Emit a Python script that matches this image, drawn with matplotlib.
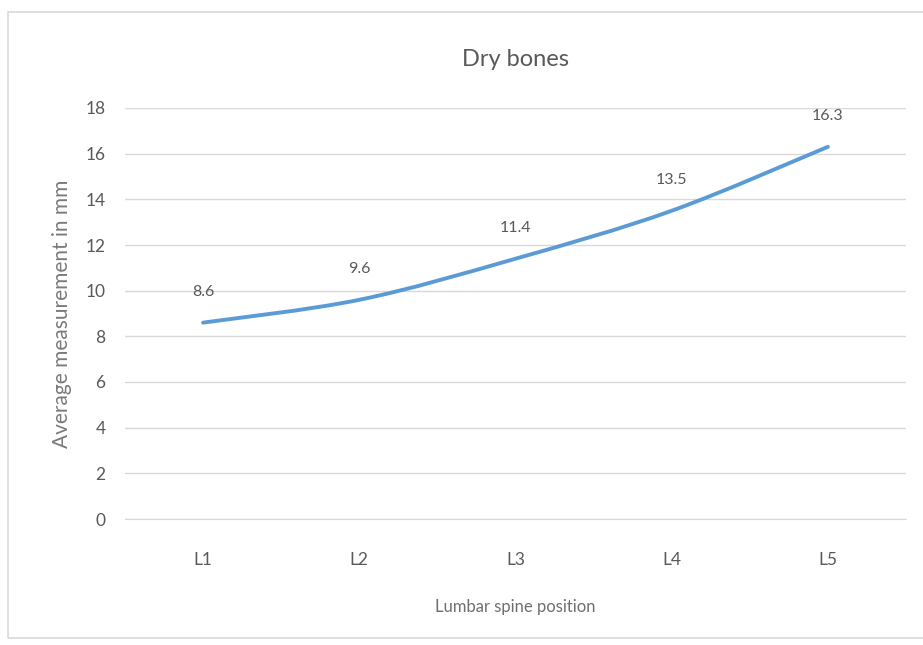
import matplotlib.pyplot as plt
from matplotlib.path import Path
from matplotlib.patches import PathPatch, Rectangle
import numpy as np

# Data
positions = ["L1", "L2", "L3", "L4", "L5"]
avg_mm = [8.6, 9.6, 11.4, 13.5, 16.3]
y_ticks = [0, 2, 4, 6, 8, 10, 12, 14, 16, 18]

plt.rcParams['font.family'] = ['Lato', 'DejaVu Sans']
TXT = '#595959'
GRID = '#d9d9d9'
LINE = '#5b9bd5'


def smooth_path(xs, ys):
    # Bezier curve through the points, Excel-style smoothing (tension 1/6)
    pts = np.column_stack([xs, ys]).astype(float)
    n = len(pts)
    verts = [pts[0]]
    codes = [Path.MOVETO]
    for i in range(n - 1):
        p0 = pts[max(i - 1, 0)]
        p1 = pts[i]
        p2 = pts[i + 1]
        p3 = pts[min(i + 2, n - 1)]
        c1 = p1 + (p2 - p0) / 6.0
        c2 = p2 - (p3 - p1) / 6.0
        verts += [c1, c2, p2]
        codes += [Path.CURVE4] * 3
    return Path(verts, codes)


fig = plt.figure(figsize=(9.23, 6.45), dpi=100)
fig.patches.append(Rectangle((8 / 923, 7 / 645), 1.0, 626 / 645, transform=fig.transFigure,
                             facecolor='none', edgecolor=GRID, lw=1.2, zorder=-1))
ax = fig.add_axes([125 / 923, 126 / 645, 781 / 923, 411 / 645])
ax.set_facecolor('none')

x = np.arange(len(positions))
ax.add_patch(PathPatch(smooth_path(x, avg_mm), facecolor='none', edgecolor=LINE,
                       lw=2.8, capstyle='round', zorder=3))

for xi, v in zip(x, avg_mm):
    ax.annotate(f"{v}", (xi, v), xytext=(0, 22), textcoords='offset points',
                ha='center', va='center', fontsize=11.5, color=TXT)

ax.set_xlim(-0.5, len(positions) - 0.5)
ax.set_ylim(0, 18)
ax.set_yticks(y_ticks)
ax.set_xticks(x)
ax.set_xticklabels(positions)
ax.yaxis.grid(True, color=GRID, lw=1)
ax.set_axisbelow(True)
for s in ['top', 'right', 'left']:
    ax.spines[s].set_visible(False)
ax.spines['bottom'].set_color(GRID)
ax.tick_params(axis='both', length=0, colors=TXT, labelsize=12.5)
ax.tick_params(axis='x', pad=24)
ax.tick_params(axis='y', pad=14)

ax.set_title("Dry bones", fontsize=17, color=TXT, pad=30)
ax.set_xlabel("Lumbar spine position", fontsize=12, color='#6f6f6f', labelpad=22)
ax.set_ylabel("Average measurement in mm", fontsize=15, color='#7a7a7a', labelpad=10)

fig.savefig("out.png", dpi=100)
